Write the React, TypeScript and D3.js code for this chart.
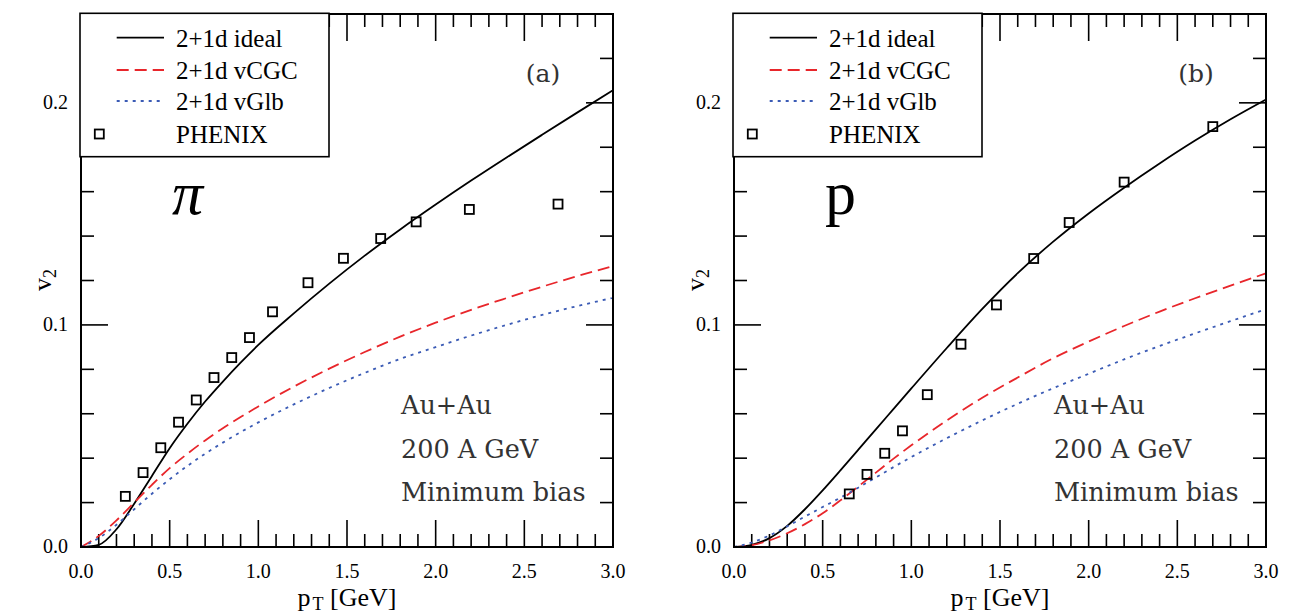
import React from "react";
import * as d3 from "d3";

// transverse momentum grid for the hydro curves
const ptGrid = [0, 0.1, 0.2, 0.3, 0.4, 0.5, 0.6, 0.7, 0.8, 0.9, 1.0, 1.2, 1.4, 1.6, 1.8, 2.0, 2.2, 2.4, 2.6, 2.8, 3.0];

// pions
const pionIdeal = [0, 0.001, 0.008, 0.0195, 0.032, 0.0445, 0.0555, 0.0655, 0.0745, 0.083, 0.091, 0.1052, 0.1186, 0.1312, 0.143, 0.1542, 0.165, 0.1754, 0.1856, 0.1957, 0.2057];
const pionCGC = [0, 0.005, 0.012, 0.02, 0.028, 0.0355, 0.042, 0.048, 0.0535, 0.0585, 0.0633, 0.0722, 0.0803, 0.0878, 0.0947, 0.101, 0.1068, 0.1121, 0.1172, 0.122, 0.1265];
const pionGlb = [0, 0.004, 0.01, 0.017, 0.024, 0.0305, 0.0365, 0.042, 0.047, 0.0517, 0.0561, 0.0642, 0.0716, 0.0784, 0.0847, 0.09, 0.0952, 0.1, 0.1045, 0.1085, 0.1122];
const pionPt = [0.25, 0.35, 0.45, 0.55, 0.65, 0.75, 0.85, 0.95, 1.08, 1.28, 1.48, 1.69, 1.89, 2.19, 2.69];
const pionV2 = [0.0228, 0.0335, 0.0447, 0.0562, 0.0662, 0.0763, 0.0853, 0.0943, 0.1059, 0.119, 0.130, 0.1389, 0.1464, 0.152, 0.1544];

// protons
const protonIdeal = [0, 0.001, 0.004, 0.0095, 0.017, 0.0255, 0.0345, 0.0437, 0.053, 0.0622, 0.0714, 0.0896, 0.1072, 0.1233, 0.1375, 0.1502, 0.1618, 0.1727, 0.183, 0.1926, 0.2015];
const protonCGC = [0, 0.0008, 0.003, 0.0062, 0.0103, 0.0152, 0.021, 0.0272, 0.0335, 0.0398, 0.0458, 0.057, 0.0672, 0.0763, 0.085, 0.0925, 0.0995, 0.106, 0.112, 0.1177, 0.1232];
const protonGlb = [0, 0.002, 0.0052, 0.0093, 0.0137, 0.018, 0.0222, 0.0267, 0.0313, 0.036, 0.0405, 0.049, 0.057, 0.0645, 0.0715, 0.078, 0.0845, 0.0905, 0.0962, 0.1017, 0.1071];
const protonPt = [0.65, 0.75, 0.85, 0.95, 1.09, 1.28, 1.48, 1.69, 1.89, 2.2, 2.7];
const protonV2 = [0.0239, 0.0327, 0.0422, 0.0523, 0.0686, 0.0913, 0.109, 0.1299, 0.1461, 0.1643, 0.1893];

const legendLabels = ["2+1d ideal", "2+1d vCGC", "2+1d vGlb", "PHENIX"];
const xTickLabels = ["0.0", "0.5", "1.0", "1.5", "2.0", "2.5", "3.0"];
const yTickLabels = ["0.0", "0.1", "0.2"];
const infoLines = ["Au+Au", "200 A GeV", "Minimum bias"];

const SERIF = "'Liberation Serif', 'Times New Roman', serif";
const CM = "'DejaVu Serif', serif";
const RED = "#e8262b";
const BLUE = "#3b5bb5";

const top = 14;
const bottom = 547;
const panelW = 532;

function Panel({ left, ideal, cgc, glb, pt, v2, tag, particle, italic }) {
  const x = d3.scaleLinear().domain([0, 3]).range([left, left + panelW]);
  const y = d3.scaleLinear().domain([0, 0.24]).range([bottom, top]);
  const line = (vals) =>
    d3
      .line()
      .x((d, i) => x(ptGrid[i]))
      .y((d) => y(d))
      .curve(d3.curveMonotoneX)(vals);

  const xMinor = d3.range(1, 30).map((i) => i / 10);
  const yMinor = d3.range(1, 12).map((i) => i / 50);
  const isMajorX = (t) => Math.abs(t * 2 - Math.round(t * 2)) < 1e-6;
  const isMajorY = (t) => Math.abs(t * 10 - Math.round(t * 10)) < 1e-6;

  const legX = left - 1;
  const rowY = [46.7, 79, 110, 142.7];

  return (
    <g>
      <defs>
        <clipPath id={`clip-${tag}`}>
          <rect x={left} y={top} width={panelW} height={bottom - top} />
        </clipPath>
      </defs>

      {/* ticks */}
      <g stroke="#000" strokeWidth={1.6}>
        {xMinor.map((t) => {
          const len = isMajorX(t) ? 27 : 13;
          return (
            <g key={"x" + t}>
              <line x1={x(t)} x2={x(t)} y1={bottom} y2={bottom - len} />
              <line x1={x(t)} x2={x(t)} y1={top} y2={top + len} />
            </g>
          );
        })}
        {yMinor.map((t) => {
          const len = isMajorY(t) ? 27 : 13;
          return (
            <g key={"y" + t}>
              <line x1={left} x2={left + len} y1={y(t)} y2={y(t)} />
              <line x1={left + panelW} x2={left + panelW - len} y1={y(t)} y2={y(t)} />
            </g>
          );
        })}
      </g>

      {/* curves */}
      <g clipPath={`url(#clip-${tag})`} fill="none" strokeWidth={1.8}>
        <path d={line(ideal)} stroke="#000" />
        <path d={line(cgc)} stroke={RED} strokeDasharray="12,6" />
        <path d={line(glb)} stroke={BLUE} strokeDasharray="3,5" />
      </g>

      {/* data points */}
      <g fill="none" stroke="#000" strokeWidth={1.8}>
        {pt.map((p, i) => (
          <rect key={i} x={x(p) - 4.5} y={y(v2[i]) - 4.5} width={9} height={9} />
        ))}
      </g>

      {/* frame */}
      <rect x={left} y={top} width={panelW} height={bottom - top} fill="none" stroke="#000" strokeWidth={2} />

      {/* legend */}
      <rect x={legX} y={13.3} width={249} height={143.4} fill="#fff" stroke="#000" strokeWidth={1.6} />
      <line x1={left + 35.7} x2={left + 83} y1={rowY[0] - 9} y2={rowY[0] - 9} stroke="#000" strokeWidth={1.8} />
      <line x1={left + 35.7} x2={left + 83} y1={rowY[1] - 9} y2={rowY[1] - 9} stroke={RED} strokeWidth={1.8} strokeDasharray="12,6" />
      <line x1={left + 35.7} x2={left + 83} y1={rowY[2] - 9} y2={rowY[2] - 9} stroke={BLUE} strokeWidth={1.8} strokeDasharray="3,5" />
      <rect x={left + 18.3 - 4.5} y={134 - 4.5} width={9} height={9} fill="none" stroke="#000" strokeWidth={1.8} />
      {legendLabels.map((s, i) => (
        <text key={s} x={left + 95} y={rowY[i]} fontFamily={SERIF} fontSize={25}>
          {s}
        </text>
      ))}

      {/* panel tag */}
      <text x={left + 462} y={82} fontFamily={CM} fontSize={25} fill="#333" textAnchor="middle">
        ({tag})
      </text>

      {/* particle symbol */}
      <text x={left + 91} y={214} fontFamily={SERIF} fontSize={62} fontStyle={italic ? "italic" : "normal"}>
        {particle}
      </text>

      {/* collision info */}
      {infoLines.map((s, i) => (
        <text key={s} x={left + 320} y={414 + i * 43.5} fontFamily={CM} fontSize={25.5} fill="#333">
          {s}
        </text>
      ))}

      {/* tick labels */}
      {xTickLabels.map((s) => (
        <text key={s} x={x(+s)} y={578} fontFamily={SERIF} fontSize={20} textAnchor="middle">
          {s}
        </text>
      ))}
      {yTickLabels.map((s) => (
        <text key={s} x={left - 13} y={y(+s) + 6} fontFamily={SERIF} fontSize={20} textAnchor="end">
          {s}
        </text>
      ))}

      {/* axis titles */}
      <text x={left + 266} y={606} fontFamily={SERIF} fontSize={26} textAnchor="middle">
        p<tspan fontSize={18} dx={2} dy={4}>T</tspan>
        <tspan dy={-4}> [GeV]</tspan>
      </text>
      <text transform={`translate(${left - 30},${280}) rotate(-90)`} fontFamily={SERIF} fontSize={26} textAnchor="middle">
        v<tspan fontSize={18} dy={5}>2</tspan>
      </text>
    </g>
  );
}

export default function App() {
  return (
    <svg width={1299} height={615} style={{ position: "absolute", left: 0, top: 0, background: "#fff" }}>
      <rect width={1299} height={615} fill="#fff" />
      <Panel left={81} ideal={pionIdeal} cgc={pionCGC} glb={pionGlb} pt={pionPt} v2={pionV2} tag="a" particle="π" italic />
      <Panel left={734} ideal={protonIdeal} cgc={protonCGC} glb={protonGlb} pt={protonPt} v2={protonV2} tag="b" particle="p" italic={false} />
    </svg>
  );
}
